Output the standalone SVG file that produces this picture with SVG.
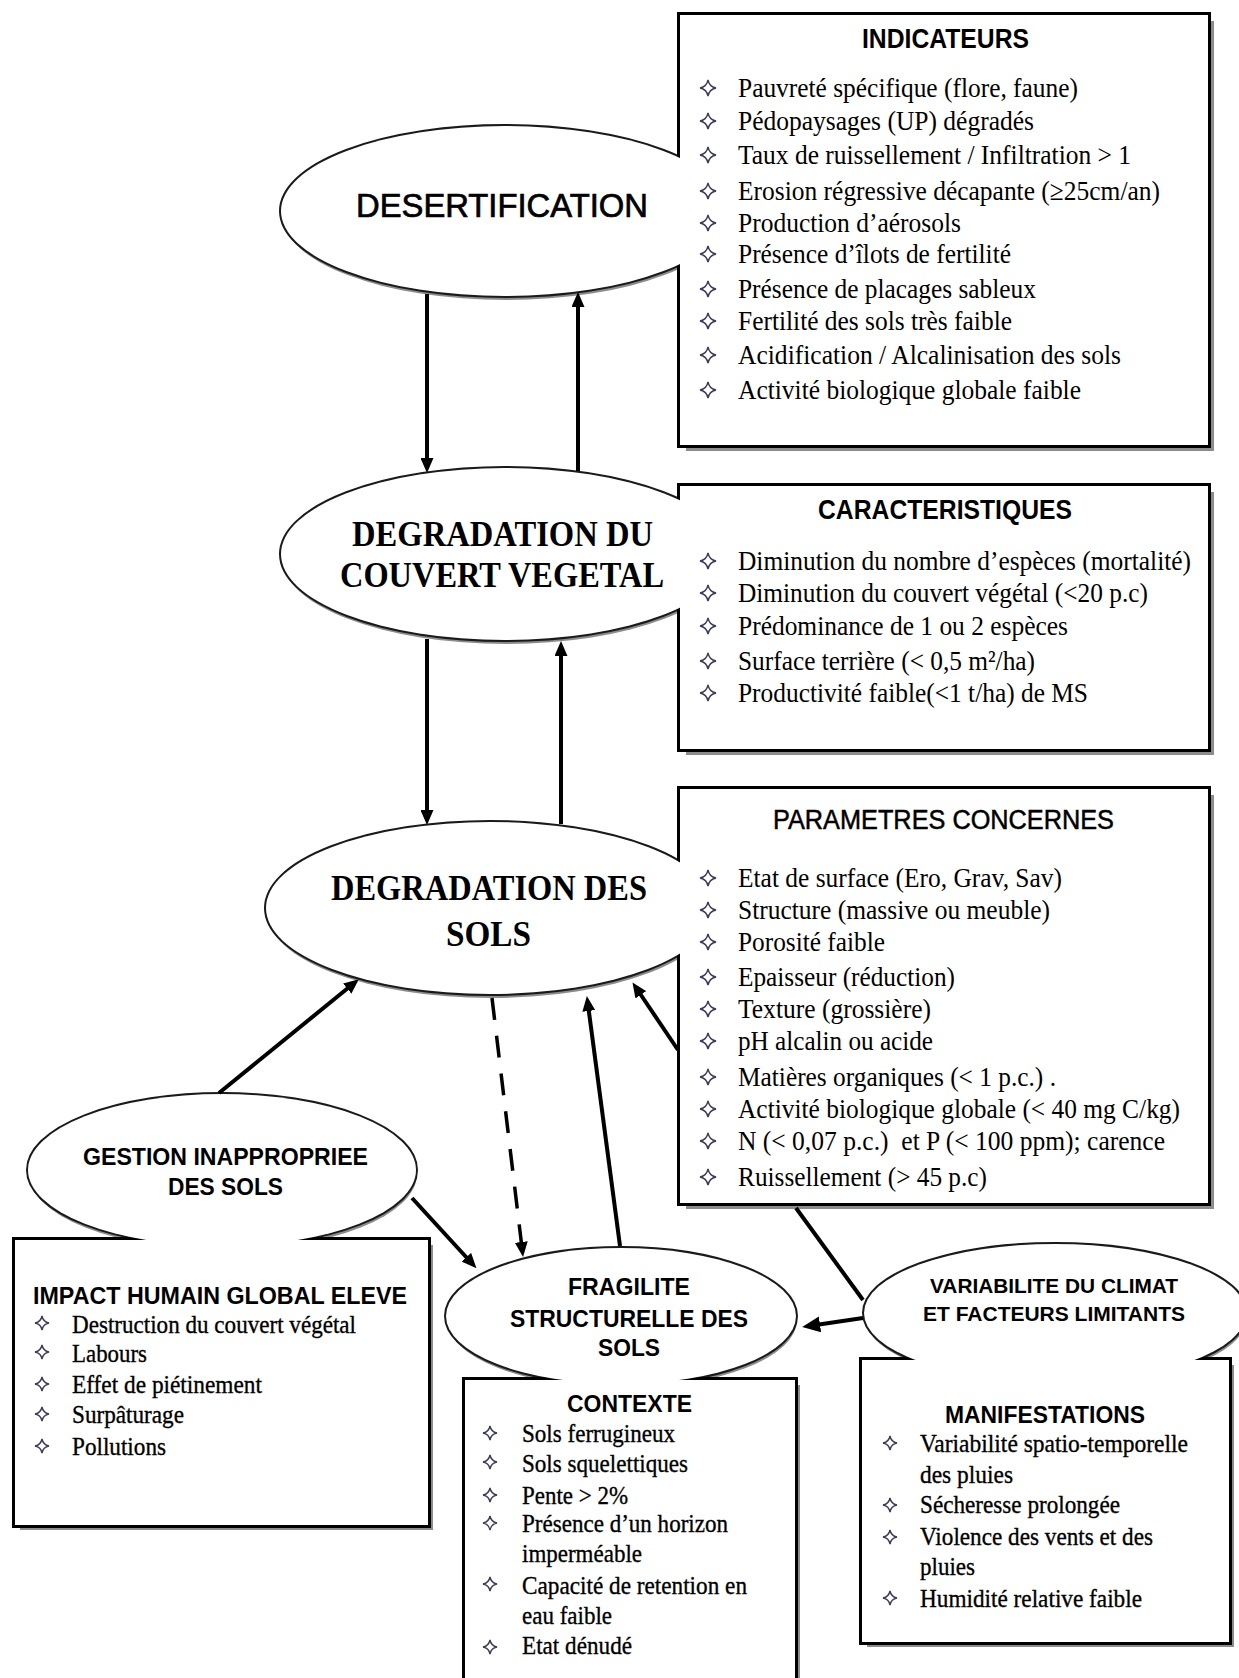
<svg xmlns="http://www.w3.org/2000/svg" xmlns:xlink="http://www.w3.org/1999/xlink" width="1239" height="1678" viewBox="0 0 1239 1678">
<style>
.ol{fill:none;stroke:#1a1a1a;stroke-width:4}
.ob{fill:none;stroke:#000;stroke-width:6}
.fi{fill:#fff;stroke:none}
.sh{fill:#8c8c8c;stroke:none}
.bl{fill:none;stroke:#3b3b5a;stroke-width:1.4}
.ts{font-family:"Liberation Sans",Arial,sans-serif;fill:#000;stroke:#000;stroke-width:0.7}
.tb{font-family:"Liberation Sans",Arial,sans-serif;font-weight:bold;fill:#000}
.trb{font-family:"Liberation Serif","Times New Roman",serif;font-weight:bold;fill:#000}
.it{font-family:"Liberation Serif","Times New Roman",serif;font-size:28px;fill:#000}
.is{font-family:"Liberation Serif","Times New Roman",serif;font-size:26px;fill:#000;stroke:#000;stroke-width:0.35}
.cn{fill:none;stroke:#000;stroke-width:4}
.cd{fill:none;stroke:#000;stroke-width:3.5;stroke-dasharray:22 16}
</style>
<defs>
<path id="b1" d="M0,-8 Q1.3,-1.3 8,0 Q1.3,1.3 0,8 Q-1.3,1.3 -8,0 Q-1.3,-1.3 0,-8Z"/>
<path id="b2" d="M0,-7 Q1.1,-1.1 7,0 Q1.1,1.1 0,7 Q-1.1,1.1 -7,0 Q-1.1,-1.1 0,-7Z"/>
<marker id="ah" markerWidth="15" markerHeight="13" refX="1" refY="6.5" orient="auto" markerUnits="userSpaceOnUse"><path d="M0,0 L15,6.5 L0,13 z" fill="#000"/></marker>
<marker id="ahb" markerWidth="18" markerHeight="16" refX="1" refY="8" orient="auto" markerUnits="userSpaceOnUse"><path d="M0,0 L18,8 L0,16 z" fill="#000"/></marker>
</defs>
<rect width="1239" height="1678" fill="#fff"/>

<g id="desertification">
<ellipse class="sh" cx="506" cy="215" rx="224" ry="85"/>
<rect class="sh" x="686" y="21" width="528" height="430"/>
<ellipse class="ol" cx="505" cy="211" rx="224" ry="85"/>
<rect class="ob" x="680" y="15" width="528" height="430"/>
<ellipse class="fi" cx="505" cy="211" rx="224" ry="85"/>
<rect class="fi" x="680" y="15" width="528" height="430"/>
<text class="ts" x="356" y="217" font-size="33" textLength="292" lengthAdjust="spacingAndGlyphs">DESERTIFICATION</text>
<text class="tb" x="862" y="48" font-size="27" textLength="167" lengthAdjust="spacingAndGlyphs">INDICATEURS</text>
<g class="bl">
<use href="#b1" x="708" y="88"/><use href="#b1" x="708" y="121"/><use href="#b1" x="708" y="155"/><use href="#b1" x="708" y="191"/><use href="#b1" x="708" y="223"/><use href="#b1" x="708" y="254"/><use href="#b1" x="708" y="289"/><use href="#b1" x="708" y="321"/><use href="#b1" x="708" y="355"/><use href="#b1" x="708" y="390"/>
</g>
<text class="it" x="738" y="97" textLength="340" lengthAdjust="spacingAndGlyphs">Pauvreté spécifique (flore, faune)</text>
<text class="it" x="738" y="130" textLength="296" lengthAdjust="spacingAndGlyphs">Pédopaysages (UP) dégradés</text>
<text class="it" x="738" y="164" textLength="393" lengthAdjust="spacingAndGlyphs">Taux de ruissellement / Infiltration &gt; 1</text>
<text class="it" x="738" y="200" textLength="422" lengthAdjust="spacingAndGlyphs">Erosion régressive décapante (≥25cm/an)</text>
<text class="it" x="738" y="232" textLength="223" lengthAdjust="spacingAndGlyphs">Production d’aérosols</text>
<text class="it" x="738" y="263" textLength="273" lengthAdjust="spacingAndGlyphs">Présence d’îlots de fertilité</text>
<text class="it" x="738" y="298" textLength="298" lengthAdjust="spacingAndGlyphs">Présence de placages sableux</text>
<text class="it" x="738" y="330" textLength="274" lengthAdjust="spacingAndGlyphs">Fertilité des sols très faible</text>
<text class="it" x="738" y="364" textLength="383" lengthAdjust="spacingAndGlyphs">Acidification / Alcalinisation des sols</text>
<text class="it" x="738" y="399" textLength="343" lengthAdjust="spacingAndGlyphs">Activité biologique globale faible</text>
</g>

<g id="degradation-couvert">
<ellipse class="sh" cx="506" cy="558" rx="224" ry="86"/>
<rect class="sh" x="686" y="492" width="528" height="263"/>
<ellipse class="ol" cx="505" cy="554" rx="224" ry="86"/>
<rect class="ob" x="680" y="486" width="528" height="263"/>
<ellipse class="fi" cx="505" cy="554" rx="224" ry="86"/>
<rect class="fi" x="680" y="486" width="528" height="263"/>
<text class="trb" x="352" y="546" font-size="36" textLength="301" lengthAdjust="spacingAndGlyphs">DEGRADATION DU</text>
<text class="trb" x="340" y="587" font-size="36" textLength="324" lengthAdjust="spacingAndGlyphs">COUVERT VEGETAL</text>
<text class="tb" x="818" y="519" font-size="27" textLength="254" lengthAdjust="spacingAndGlyphs">CARACTERISTIQUES</text>
<g class="bl">
<use href="#b1" x="708" y="561"/><use href="#b1" x="708" y="593"/><use href="#b1" x="708" y="626"/><use href="#b1" x="708" y="661"/><use href="#b1" x="708" y="693"/>
</g>
<text class="it" x="738" y="570" font-size="27" textLength="453" lengthAdjust="spacingAndGlyphs">Diminution du nombre d’espèces (mortalité)</text>
<text class="it" x="738" y="602" textLength="410" lengthAdjust="spacingAndGlyphs">Diminution du couvert végétal (&lt;20 p.c)</text>
<text class="it" x="738" y="635" textLength="330" lengthAdjust="spacingAndGlyphs">Prédominance de 1 ou 2 espèces</text>
<text class="it" x="738" y="670" textLength="297" lengthAdjust="spacingAndGlyphs">Surface terrière (&lt; 0,5 m²/ha)</text>
<text class="it" x="738" y="702" textLength="350" lengthAdjust="spacingAndGlyphs">Productivité faible(&lt;1 t/ha) de MS</text>
</g>

<g id="degradation-sols">
<ellipse class="sh" cx="491" cy="912" rx="224" ry="86"/>
<rect class="sh" x="686" y="795" width="528" height="414"/>
<ellipse class="ol" cx="490" cy="908" rx="224" ry="86"/>
<rect class="ob" x="680" y="789" width="528" height="414"/>
<ellipse class="fi" cx="490" cy="908" rx="224" ry="86"/>
<rect class="fi" x="680" y="789" width="528" height="414"/>
<text class="trb" x="331" y="900" font-size="36" textLength="316" lengthAdjust="spacingAndGlyphs">DEGRADATION DES</text>
<text class="trb" x="446" y="946" font-size="36" textLength="85" lengthAdjust="spacingAndGlyphs">SOLS</text>
<text class="ts" x="773" y="829" font-size="27" style="stroke-width:0.5" textLength="341" lengthAdjust="spacingAndGlyphs">PARAMETRES CONCERNES</text>
<g class="bl">
<use href="#b1" x="708" y="878"/><use href="#b1" x="708" y="910"/><use href="#b1" x="708" y="942"/><use href="#b1" x="708" y="977"/><use href="#b1" x="708" y="1009"/><use href="#b1" x="708" y="1041"/><use href="#b1" x="708" y="1077"/><use href="#b1" x="708" y="1109"/><use href="#b1" x="708" y="1141"/><use href="#b1" x="708" y="1177"/>
</g>
<text class="it" x="738" y="887" textLength="324" lengthAdjust="spacingAndGlyphs">Etat de surface (Ero, Grav, Sav)</text>
<text class="it" x="738" y="919" textLength="312" lengthAdjust="spacingAndGlyphs">Structure (massive ou meuble)</text>
<text class="it" x="738" y="951" textLength="147" lengthAdjust="spacingAndGlyphs">Porosité faible</text>
<text class="it" x="738" y="986" textLength="217" lengthAdjust="spacingAndGlyphs">Epaisseur (réduction)</text>
<text class="it" x="738" y="1018" textLength="193" lengthAdjust="spacingAndGlyphs">Texture (grossière)</text>
<text class="it" x="738" y="1050" textLength="195" lengthAdjust="spacingAndGlyphs">pH alcalin ou acide</text>
<text class="it" x="738" y="1086" textLength="318" lengthAdjust="spacingAndGlyphs">Matières organiques (&lt; 1 p.c.) .</text>
<text class="it" x="738" y="1118" font-size="27" textLength="442" lengthAdjust="spacingAndGlyphs">Activité biologique globale (&lt; 40 mg C/kg)</text>
<text class="it" x="738" y="1150" textLength="427" lengthAdjust="spacingAndGlyphs">N (&lt; 0,07 p.c.)&#160; et P (&lt; 100 ppm); carence</text>
<text class="it" x="738" y="1186" textLength="249" lengthAdjust="spacingAndGlyphs">Ruissellement (&gt; 45 p.c)</text>
</g>

<g id="gestion">
<ellipse class="sh" cx="223" cy="1174" rx="194" ry="76"/>
<rect class="sh" x="20" y="1245" width="413" height="285"/>
<ellipse class="ol" cx="222" cy="1170" rx="194" ry="76"/>
<rect class="ob" x="15" y="1240" width="413" height="285"/>
<ellipse class="fi" cx="222" cy="1170" rx="194" ry="76"/>
<rect class="fi" x="15" y="1240" width="413" height="285"/>
<text class="tb" x="83" y="1165" font-size="24" textLength="285" lengthAdjust="spacingAndGlyphs">GESTION INAPPROPRIEE</text>
<text class="tb" x="168" y="1195" font-size="24" textLength="115" lengthAdjust="spacingAndGlyphs">DES SOLS</text>
<text class="tb" x="33" y="1304" font-size="24" textLength="374" lengthAdjust="spacingAndGlyphs">IMPACT HUMAIN GLOBAL ELEVE</text>
<g class="bl">
<use href="#b2" x="42" y="1323"/><use href="#b2" x="42" y="1352"/><use href="#b2" x="42" y="1384"/><use href="#b2" x="42" y="1414"/><use href="#b2" x="42" y="1446"/>
</g>
<text class="is" x="72" y="1333" textLength="284" lengthAdjust="spacingAndGlyphs">Destruction du couvert végétal</text>
<text class="is" x="72" y="1362" textLength="75" lengthAdjust="spacingAndGlyphs">Labours</text>
<text class="is" x="72" y="1393" textLength="190" lengthAdjust="spacingAndGlyphs">Effet de piétinement</text>
<text class="is" x="72" y="1423" textLength="112" lengthAdjust="spacingAndGlyphs">Surpâturage</text>
<text class="is" x="72" y="1455" textLength="94" lengthAdjust="spacingAndGlyphs">Pollutions</text>
</g>

<g id="fragilite">
<ellipse class="sh" cx="622" cy="1320" rx="175" ry="68"/>
<rect class="sh" x="470" y="1385" width="330" height="330"/>
<ellipse class="ol" cx="621" cy="1316" rx="175" ry="68"/>
<rect class="ob" x="465" y="1380" width="330" height="330"/>
<ellipse class="fi" cx="621" cy="1316" rx="175" ry="68"/>
<rect class="fi" x="465" y="1380" width="330" height="330"/>
<text class="tb" x="568" y="1295" font-size="24" textLength="122" lengthAdjust="spacingAndGlyphs">FRAGILITE</text>
<text class="tb" x="510" y="1327" font-size="24" textLength="238" lengthAdjust="spacingAndGlyphs">STRUCTURELLE DES</text>
<text class="tb" x="598" y="1356" font-size="24" textLength="62" lengthAdjust="spacingAndGlyphs">SOLS</text>
<text class="tb" x="567" y="1412" font-size="24" textLength="125" lengthAdjust="spacingAndGlyphs">CONTEXTE</text>
<g class="bl">
<use href="#b2" x="490" y="1433"/><use href="#b2" x="490" y="1462"/><use href="#b2" x="490" y="1495"/><use href="#b2" x="490" y="1523"/><use href="#b2" x="490" y="1584"/><use href="#b2" x="490" y="1647"/>
</g>
<text class="is" x="522" y="1442" textLength="153" lengthAdjust="spacingAndGlyphs">Sols ferrugineux</text>
<text class="is" x="522" y="1472" textLength="166" lengthAdjust="spacingAndGlyphs">Sols squelettiques</text>
<text class="is" x="522" y="1504" textLength="106" lengthAdjust="spacingAndGlyphs">Pente &gt; 2%</text>
<text class="is" x="522" y="1532" textLength="206" lengthAdjust="spacingAndGlyphs">Présence d’un horizon</text>
<text class="is" x="522" y="1562" textLength="120" lengthAdjust="spacingAndGlyphs">imperméable</text>
<text class="is" x="522" y="1594" textLength="225" lengthAdjust="spacingAndGlyphs">Capacité de retention en</text>
<text class="is" x="522" y="1624" textLength="90" lengthAdjust="spacingAndGlyphs">eau faible</text>
<text class="is" x="522" y="1654" textLength="110" lengthAdjust="spacingAndGlyphs">Etat dénudé</text>
</g>

<g id="variabilite">
<ellipse class="sh" cx="1056" cy="1317" rx="191" ry="69"/>
<rect class="sh" x="867" y="1365" width="367" height="282"/>
<ellipse class="ol" cx="1055" cy="1313" rx="191" ry="69"/>
<rect class="ob" x="862" y="1360" width="367" height="282"/>
<ellipse class="fi" cx="1055" cy="1313" rx="191" ry="69"/>
<rect class="fi" x="862" y="1360" width="367" height="282"/>
<text class="tb" x="930" y="1293" font-size="21" textLength="248" lengthAdjust="spacingAndGlyphs">VARIABILITE DU CLIMAT</text>
<text class="tb" x="923" y="1321" font-size="21" textLength="262" lengthAdjust="spacingAndGlyphs">ET FACTEURS LIMITANTS</text>
<text class="tb" x="945" y="1423" font-size="24" textLength="200" lengthAdjust="spacingAndGlyphs">MANIFESTATIONS</text>
<g class="bl">
<use href="#b2" x="890" y="1443"/><use href="#b2" x="890" y="1505"/><use href="#b2" x="890" y="1537"/><use href="#b2" x="890" y="1598"/>
</g>
<text class="is" x="920" y="1452" textLength="268" lengthAdjust="spacingAndGlyphs">Variabilité spatio-temporelle</text>
<text class="is" x="920" y="1483" textLength="93" lengthAdjust="spacingAndGlyphs">des pluies</text>
<text class="is" x="920" y="1513" textLength="200" lengthAdjust="spacingAndGlyphs">Sécheresse prolongée</text>
<text class="is" x="920" y="1545" textLength="233" lengthAdjust="spacingAndGlyphs">Violence des vents et des</text>
<text class="is" x="920" y="1575" textLength="55" lengthAdjust="spacingAndGlyphs">pluies</text>
<text class="is" x="920" y="1607" textLength="222" lengthAdjust="spacingAndGlyphs">Humidité relative faible</text>
</g>

<g id="connectors">
<line class="cn" x1="427" y1="294" x2="427" y2="459" marker-end="url(#ah)"/>
<line class="cn" x1="578" y1="471" x2="578" y2="306" marker-end="url(#ah)"/>
<line class="cn" x1="427" y1="639" x2="427" y2="811" marker-end="url(#ah)"/>
<line class="cn" x1="561" y1="824" x2="561" y2="655" marker-end="url(#ah)"/>
<line class="cn" x1="219" y1="1093" x2="348" y2="988" marker-end="url(#ah)" stroke-width="3.5"/>
<line class="cd" x1="492" y1="998" x2="521.4" y2="1243" marker-end="url(#ah)"/>
<line class="cn" x1="620" y1="1246" x2="588.7" y2="1010" marker-end="url(#ah)" stroke-width="3.5"/>
<line class="cn" x1="678" y1="1050" x2="640.3" y2="994" marker-end="url(#ah)" stroke-width="3.5"/>
<line class="cn" x1="412" y1="1198" x2="467" y2="1258" marker-end="url(#ah)" stroke-width="3.5"/>
<line class="cn" x1="796" y1="1208" x2="863" y2="1300" stroke-width="3"/>
<line class="cn" x1="863" y1="1318" x2="819" y2="1324.5" marker-end="url(#ahb)" stroke-width="4.5"/>
</g>
</svg>
